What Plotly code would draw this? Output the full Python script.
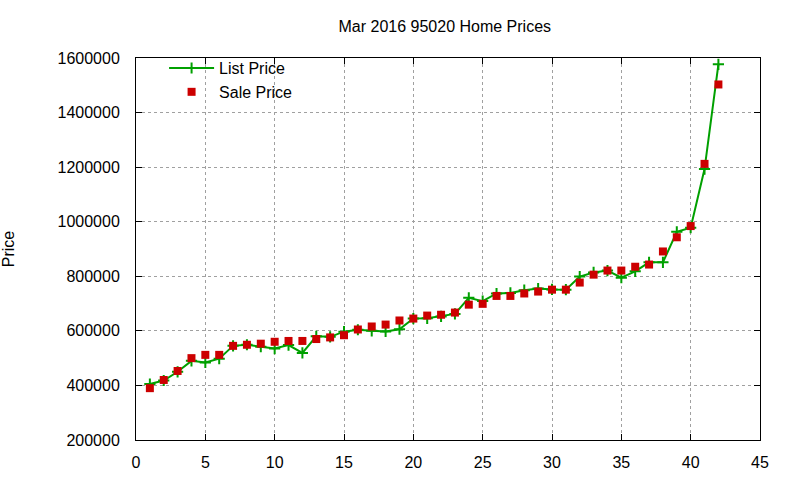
import plotly.graph_objects as go

idx = list(range(1, 43))
list_price = [405000, 418000, 450000, 490000, 484000, 498000, 545000, 549000, 542000, 535000,
              548000, 519000, 580000, 578000, 597000, 604000, 600000, 598000, 606000, 645000,
              646000, 653000, 662000, 721000, 709000, 737000, 739000, 749000, 755000, 752000,
              751000, 799000, 814000, 821000, 795000, 818000, 851000, 851000, 963000, 978000,
              1193000, 1577000]
sale_price = [390000, 420000, 453000, 500000, 512000, 512000, 545000, 549000, 553000, 560000,
              563000, 563000, 570000, 576000, 584000, 605000, 616000, 623000, 638000, 645000,
              656000, 659000, 667000, 696000, 699000, 728000, 728000, 737000, 744000, 751000,
              751000, 777000, 806000, 821000, 821000, 835000, 843000, 891000, 943000, 984000,
              1212000, 1503000]

x_ticks = list(range(0, 50, 5))
y_ticks = list(range(200000, 1600001, 200000))
y_tick_labels = [str(v) for v in y_ticks]

FONT = "Liberation Sans, Arial, sans-serif"
FS = 16

fig = go.Figure()
fig.add_trace(go.Scatter(
    x=idx, y=list_price, name="List Price", mode="lines+markers",
    line=dict(color="#00a000", width=2),
    marker=dict(symbol="cross-thin", size=8, line=dict(color="#00a000", width=2)),
))
fig.add_trace(go.Scatter(
    x=idx, y=sale_price, name="Sale Price", mode="markers",
    marker=dict(symbol="square", size=8, color="#cc0000"),
))

axis_common = dict(
    showline=True, linecolor="black", linewidth=1, mirror="allticks",
    ticks="inside", ticklen=6, tickcolor="black",
    showgrid=True, gridcolor="#a0a0a0", griddash="dot", gridwidth=1,
    zeroline=False, tickfont=dict(family=FONT, size=FS, color="black"),
    automargin=False,
)

fig.update_layout(
    width=800, height=480,
    margin=dict(l=136, r=40, t=58, b=40),
    paper_bgcolor="white", plot_bgcolor="white",
    font=dict(family=FONT, size=FS, color="black"),
    title=dict(text="Mar 2016 95020 Home Prices", x=0.556, xanchor="center",
               y=0.946, yanchor="middle", font=dict(family=FONT, size=FS, color="black")),
    xaxis=dict(range=[0, 45], tickvals=x_ticks, ticklabelstandoff=8, **axis_common),
    yaxis=dict(range=[200000, 1600000], tickvals=y_ticks, ticktext=y_tick_labels,
               ticklabelstandoff=12,
               title=dict(text="Price", standoff=38, font=dict(family=FONT, size=FS)),
               **axis_common),
    legend=dict(x=0.045, y=1.018, xanchor="left", yanchor="top", bgcolor="rgba(0,0,0,0)",
                font=dict(family=FONT, size=FS, color="black"), tracegroupgap=0,
                itemwidth=45),
    showlegend=True,
)

fig.write_html("out.html")
